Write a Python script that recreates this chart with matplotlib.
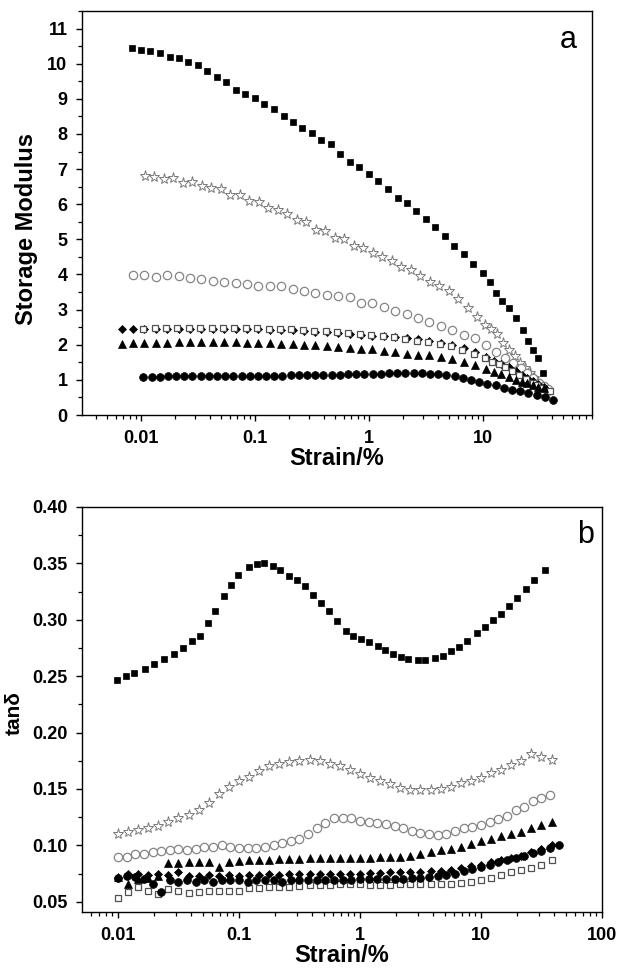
import matplotlib
matplotlib.use('Agg')
import matplotlib.pyplot as plt
from matplotlib.ticker import LogLocator, MultipleLocator, FuncFormatter, NullFormatter

plt.rcParams['font.family'] = ['Liberation Sans', 'DejaVu Sans']
plt.rcParams['font.weight'] = 'bold'
plt.rcParams['axes.labelweight'] = 'bold'

# ---------------- panel a : storage modulus ----------------
top_sq_x = [0.0083, 0.0100, 0.0121, 0.0147, 0.0178, 0.0215, 0.0261, 0.0316, 0.0383, 0.0464,
            0.0562, 0.0681, 0.0825, 0.100, 0.121, 0.147, 0.178, 0.215, 0.261, 0.316,
            0.383, 0.464, 0.562, 0.681, 0.825, 1.00, 1.21, 1.47, 1.78, 2.15,
            2.61, 3.16, 3.83, 4.64, 5.62, 6.81, 8.25, 10.0, 11.5, 13.0,
            14.7, 16.8, 19.5, 22.4, 24.8, 27.5, 30.3, 33.6]
top_sq_y = [10.45, 10.40, 10.35, 10.30, 10.20, 10.15, 10.04, 9.97, 9.80, 9.63,
            9.47, 9.26, 9.15, 9.03, 8.86, 8.70, 8.52, 8.35, 8.17, 8.03,
            7.82, 7.70, 7.42, 7.20, 7.05, 6.87, 6.66, 6.43, 6.17, 6.03,
            5.81, 5.57, 5.36, 5.09, 4.80, 4.58, 4.31, 4.05, 3.79, 3.46,
            3.25, 3.04, 2.76, 2.41, 2.10, 1.85, 1.62, 1.20]

top_star_x = [0.0108, 0.0131, 0.0159, 0.0192, 0.0233, 0.0282, 0.0342, 0.0414, 0.0501, 0.0607,
              0.0735, 0.0891, 0.108, 0.131, 0.159, 0.192, 0.233, 0.282, 0.342, 0.414,
              0.501, 0.607, 0.735, 0.891, 1.08, 1.31, 1.59, 1.92, 2.33, 2.82,
              3.42, 4.14, 5.01, 6.07, 7.35, 8.91, 10.5, 11.8, 13.2, 15.0,
              17.0, 19.0, 21.1, 23.4, 25.7, 28.2, 30.2, 33.1, 36.3]
top_star_y = [6.80, 6.78, 6.73, 6.76, 6.61, 6.64, 6.51, 6.47, 6.42, 6.27,
              6.26, 6.09, 6.07, 5.88, 5.83, 5.73, 5.55, 5.50, 5.28, 5.24,
              5.05, 5.00, 4.81, 4.74, 4.62, 4.50, 4.38, 4.22, 4.12, 3.95,
              3.79, 3.66, 3.53, 3.30, 3.05, 2.78, 2.56, 2.44, 2.30, 2.05,
              1.85, 1.68, 1.48, 1.34, 1.19, 1.05, 0.91, 0.80, 0.68]

top_oc_x = [0.0085, 0.0107, 0.0135, 0.0170, 0.0214, 0.0269, 0.0339, 0.0427, 0.0537, 0.0676,
            0.0851, 0.107, 0.135, 0.170, 0.214, 0.269, 0.339, 0.427, 0.537, 0.676,
            0.851, 1.07, 1.35, 1.70, 2.14, 2.69, 3.39, 4.27, 5.37, 6.76,
            8.51, 10.7, 12.9, 15.5, 18.2, 21.4, 24.5, 27.5, 30.9, 34.0, 37.0]
top_oc_y = [3.98, 3.98, 3.94, 3.98, 3.96, 3.89, 3.86, 3.81, 3.79, 3.76,
            3.73, 3.68, 3.68, 3.68, 3.58, 3.53, 3.46, 3.41, 3.38, 3.35,
            3.20, 3.18, 3.08, 2.96, 2.88, 2.76, 2.65, 2.53, 2.42, 2.28,
            2.18, 2.00, 1.80, 1.63, 1.48, 1.34, 1.20, 1.05, 0.92, 0.82, 0.74]

top_tri_dia_x = [0.0068, 0.0085, 0.0107, 0.0135, 0.0170, 0.0214, 0.0269, 0.0339, 0.0427, 0.0537,
                 0.0676, 0.0851, 0.107, 0.135, 0.170, 0.214, 0.269, 0.339, 0.427, 0.537,
                 0.676, 0.851, 1.07, 1.35, 1.70, 2.14, 2.69, 3.39, 4.27, 5.37,
                 6.76, 8.51, 10.7, 12.6, 14.5, 17.0, 19.5, 22.0, 24.5, 27.5, 30.5, 34.0]
top_dia_y = [2.45, 2.45, 2.46, 2.45, 2.46, 2.46, 2.45, 2.46, 2.45, 2.46,
             2.45, 2.44, 2.44, 2.43, 2.42, 2.41, 2.39, 2.37, 2.35, 2.33,
             2.31, 2.28, 2.26, 2.24, 2.21, 2.18, 2.15, 2.10, 2.05, 1.98,
             1.90, 1.80, 1.66, 1.55, 1.46, 1.36, 1.25, 1.15, 1.05, 0.96, 0.88, 0.80]
top_tri_y = [2.03, 2.05, 2.06, 2.06, 2.06, 2.07, 2.07, 2.07, 2.08, 2.07,
             2.08, 2.06, 2.06, 2.05, 2.03, 2.02, 2.00, 1.98, 1.96, 1.94,
             1.92, 1.89, 1.87, 1.83, 1.79, 1.75, 1.72, 1.70, 1.66, 1.60,
             1.52, 1.42, 1.31, 1.23, 1.16, 1.08, 1.01, 0.95, 0.90, 0.85, 0.81, 0.76]

top_osq_x = [0.0105, 0.0132, 0.0166, 0.0209, 0.0263, 0.0331, 0.0417, 0.0525, 0.0661, 0.0832,
             0.105, 0.132, 0.166, 0.209, 0.263, 0.331, 0.417, 0.525, 0.661, 0.832,
             1.05, 1.32, 1.66, 2.09, 2.63, 3.31, 4.17, 5.25, 6.61, 8.32,
             10.5, 12.0, 13.8, 15.5, 17.8, 20.9, 24.0, 27.5, 30.0, 33.0, 39.0]
top_osq_y = [2.46, 2.47, 2.48, 2.47, 2.48, 2.49, 2.48, 2.49, 2.48, 2.47,
             2.48, 2.46, 2.45, 2.44, 2.42, 2.40, 2.38, 2.36, 2.33, 2.30,
             2.28, 2.25, 2.22, 2.17, 2.12, 2.07, 2.02, 1.96, 1.86, 1.74,
             1.62, 1.52, 1.44, 1.37, 1.26, 1.14, 1.03, 0.92, 0.84, 0.77, 0.68]

top_fc_x = [0.0105, 0.0124, 0.0146, 0.0172, 0.0203, 0.0240, 0.0283, 0.0334, 0.0394, 0.0465,
            0.0549, 0.0647, 0.0764, 0.0901, 0.106, 0.125, 0.148, 0.174, 0.206, 0.243,
            0.286, 0.338, 0.399, 0.471, 0.556, 0.656, 0.774, 0.913, 1.08, 1.27,
            1.50, 1.77, 2.09, 2.47, 2.91, 3.43, 4.05, 4.78, 5.64, 6.65,
            7.85, 9.27, 10.9, 12.9, 15.2, 18.0, 21.2, 25.0, 29.5, 34.8, 41.1]
top_fc_y = [1.09, 1.09, 1.09, 1.10, 1.10, 1.10, 1.10, 1.10, 1.10, 1.11,
            1.11, 1.11, 1.11, 1.11, 1.12, 1.12, 1.12, 1.12, 1.13, 1.13,
            1.13, 1.14, 1.14, 1.15, 1.15, 1.16, 1.16, 1.17, 1.17, 1.18,
            1.19, 1.19, 1.20, 1.20, 1.19, 1.18, 1.16, 1.13, 1.10, 1.06,
            1.00, 0.94, 0.89, 0.85, 0.78, 0.72, 0.67, 0.62, 0.57, 0.50, 0.43]

# ---------------- panel b : tan delta ----------------
bot_sq_x = [0.0098, 0.0117, 0.0135, 0.0166, 0.0200, 0.0240, 0.0288, 0.0347, 0.0407, 0.0479,
            0.0550, 0.0631, 0.0750, 0.0859, 0.0984, 0.121, 0.141, 0.160, 0.191, 0.219,
            0.259, 0.302, 0.351, 0.407, 0.479, 0.550, 0.646, 0.767, 0.871, 1.02,
            1.18, 1.41, 1.60, 1.86, 2.17, 2.51, 3.01, 3.43, 4.14, 4.82,
            5.61, 6.53, 7.60, 9.20, 10.7, 12.5, 14.5, 16.9, 20.0, 23.4, 27.5, 33.5]
bot_sq_y = [0.247, 0.250, 0.253, 0.256, 0.261, 0.265, 0.270, 0.275, 0.281, 0.286,
            0.297, 0.308, 0.321, 0.331, 0.340, 0.347, 0.349, 0.350, 0.348, 0.344,
            0.339, 0.335, 0.330, 0.322, 0.315, 0.308, 0.299, 0.290, 0.286, 0.283,
            0.280, 0.277, 0.273, 0.270, 0.267, 0.265, 0.264, 0.264, 0.266, 0.268,
            0.272, 0.276, 0.281, 0.288, 0.294, 0.300, 0.305, 0.312, 0.319, 0.327, 0.335, 0.344]

bot_strain_a = [0.0100, 0.0121, 0.0147, 0.0178, 0.0215, 0.0261, 0.0316, 0.0383, 0.0464, 0.0562,
                0.0681, 0.0825, 0.100, 0.121, 0.147, 0.178, 0.215, 0.261, 0.316, 0.383,
                0.464, 0.562, 0.681, 0.825, 1.00, 1.21, 1.47, 1.78, 2.15, 2.61,
                3.16, 3.83, 4.64, 5.62, 6.81, 8.25, 10.0, 12.1, 14.7, 17.8,
                21.5, 26.1, 31.6, 38.3]
bot_star_y = [0.110, 0.112, 0.114, 0.115, 0.117, 0.121, 0.124, 0.127, 0.131, 0.138,
              0.146, 0.152, 0.157, 0.161, 0.166, 0.170, 0.172, 0.174, 0.175, 0.176,
              0.175, 0.172, 0.170, 0.167, 0.163, 0.160, 0.157, 0.154, 0.151, 0.149,
              0.149, 0.149, 0.150, 0.152, 0.155, 0.157, 0.160, 0.164, 0.167, 0.171,
              0.175, 0.181, 0.178, 0.176]
bot_tri_y = [0.072, 0.066, 0.070, 0.071, 0.073, 0.084, 0.084, 0.085, 0.085, 0.085,
             0.081, 0.0855, 0.086, 0.087, 0.087, 0.0875, 0.088, 0.088, 0.088, 0.0885,
             0.0885, 0.0885, 0.089, 0.089, 0.089, 0.089, 0.0895, 0.0895, 0.090, 0.0905,
             0.092, 0.094, 0.0955, 0.097, 0.099, 0.101, 0.104, 0.106, 0.108, 0.110,
             0.112, 0.115, 0.118, 0.121]
bot_dia_y = [0.071, 0.075, 0.075, 0.074, 0.075, 0.074, 0.076, 0.073, 0.073, 0.074,
             0.073, 0.074, 0.073, 0.074, 0.074, 0.075, 0.074, 0.075, 0.075, 0.075,
             0.075, 0.075, 0.075, 0.075, 0.075, 0.0755, 0.0755, 0.076, 0.076, 0.076,
             0.0765, 0.077, 0.077, 0.078, 0.080, 0.082, 0.083, 0.085, 0.087, 0.089,
             0.091, 0.094, 0.097, 0.100]
bot_osq_y = [0.053, 0.059, 0.063, 0.060, 0.057, 0.061, 0.060, 0.058, 0.059, 0.060,
             0.060, 0.060, 0.0595, 0.062, 0.0625, 0.063, 0.063, 0.063, 0.064, 0.0645,
             0.0645, 0.065, 0.0655, 0.0655, 0.0655, 0.065, 0.065, 0.065, 0.0655, 0.0655,
             0.0655, 0.0655, 0.066, 0.066, 0.0665, 0.068, 0.0695, 0.071, 0.074, 0.076,
             0.078, 0.080, 0.083, 0.087]

bot_oc_x = [0.0100, 0.0118, 0.0139, 0.0164, 0.0193, 0.0228, 0.0268, 0.0316, 0.0373, 0.0439,
            0.0518, 0.0611, 0.0720, 0.0848, 0.100, 0.118, 0.139, 0.164, 0.193, 0.228,
            0.268, 0.316, 0.373, 0.439, 0.518, 0.611, 0.720, 0.848, 1.00, 1.18,
            1.39, 1.64, 1.93, 2.28, 2.68, 3.16, 3.73, 4.39, 5.18, 6.11,
            7.20, 8.48, 10.0, 11.8, 13.9, 16.4, 19.3, 22.8, 26.8, 31.6, 37.3]
bot_oc_y = [0.090, 0.090, 0.092, 0.092, 0.094, 0.095, 0.096, 0.0965, 0.096, 0.097,
            0.0985, 0.099, 0.100, 0.099, 0.098, 0.098, 0.098, 0.099, 0.100, 0.102,
            0.104, 0.106, 0.110, 0.115, 0.120, 0.124, 0.124, 0.124, 0.122, 0.121,
            0.120, 0.119, 0.117, 0.115, 0.113, 0.111, 0.110, 0.109, 0.110, 0.113,
            0.115, 0.116, 0.118, 0.121, 0.123, 0.126, 0.131, 0.134, 0.139, 0.142, 0.145]

bot_fc_x = [0.0100, 0.0118, 0.0139, 0.0164, 0.0193, 0.0228, 0.0268, 0.0316, 0.0373, 0.0439,
            0.0518, 0.0611, 0.0720, 0.0848, 0.100, 0.118, 0.139, 0.164, 0.193, 0.228,
            0.268, 0.316, 0.373, 0.439, 0.518, 0.611, 0.720, 0.848, 1.00, 1.18,
            1.39, 1.64, 1.93, 2.28, 2.68, 3.16, 3.73, 4.39, 5.18, 6.11,
            7.20, 8.48, 10.0, 11.8, 13.9, 16.4, 19.3, 22.8, 26.8, 31.6, 37.3, 43.9]
bot_fc_y = [0.071, 0.073, 0.072, 0.070, 0.066, 0.059, 0.069, 0.068, 0.069, 0.068,
            0.069, 0.068, 0.069, 0.069, 0.069, 0.068, 0.069, 0.069, 0.069, 0.068,
            0.069, 0.069, 0.069, 0.069, 0.069, 0.069, 0.069, 0.069, 0.070, 0.070,
            0.070, 0.070, 0.070, 0.070, 0.071, 0.071, 0.072, 0.073, 0.074, 0.075,
            0.077, 0.079, 0.081, 0.083, 0.085, 0.087, 0.089, 0.091, 0.093, 0.095, 0.098, 0.100]

top_ticks = [0, 1, 2, 3, 4, 5, 6, 7, 8, 9, 10, 11]
bot_ticks = [0.05, 0.10, 0.15, 0.20, 0.25, 0.30, 0.35, 0.40]

# ---------------- styles ----------------
ST = {
    'sq':   dict(marker='s', ms=4.9, mfc='black', mec='black', mew=0.5),
    'star': dict(marker='*', ms=8.0, mfc='white', mec='#7a7a7a', mew=0.7),
    'oc':   dict(marker='o', ms=6.0, mfc='white', mec='#858585', mew=0.9),
    'dia':  dict(marker='D', ms=4.0, mfc='black', mec='black', mew=0.5),
    'osq':  dict(marker='s', ms=5.0, mfc='white', mec='#505050', mew=0.9),
    'tri':  dict(marker='^', ms=6.0, mfc='black', mec='black', mew=0.5),
    'fc':   dict(marker='o', ms=5.6, mfc='black', mec='black', mew=0.5),
}


def pts(ax, x, y, key):
    ax.plot(x, y, linestyle='none', **ST[key])


fig = plt.figure(figsize=(6.25, 9.71), dpi=100)
ax1 = fig.add_axes([0.1312, 0.5726, 0.816, 0.4161])
ax2 = fig.add_axes([0.1312, 0.0608, 0.832, 0.4171])

# panel a
pts(ax1, top_sq_x, top_sq_y, 'sq')
pts(ax1, top_star_x, top_star_y, 'star')
pts(ax1, top_oc_x, top_oc_y, 'oc')
pts(ax1, top_tri_dia_x, top_dia_y, 'dia')
pts(ax1, top_osq_x, top_osq_y, 'osq')
pts(ax1, top_tri_dia_x, top_tri_y, 'tri')
pts(ax1, top_fc_x, top_fc_y, 'fc')

# panel b
pts(ax2, bot_sq_x, bot_sq_y, 'sq')
pts(ax2, bot_strain_a, bot_star_y, 'star')
pts(ax2, bot_oc_x, bot_oc_y, 'oc')
pts(ax2, bot_strain_a, bot_osq_y, 'osq')
pts(ax2, bot_strain_a, bot_tri_y, 'tri')
pts(ax2, bot_strain_a, bot_dia_y, 'dia')
pts(ax2, bot_fc_x, bot_fc_y, 'fc')

fmt = FuncFormatter(lambda v, p: f'{v:g}')
for ax in (ax1, ax2):
    ax.set_xscale('log')
    ax.xaxis.set_major_locator(LogLocator(base=10, numticks=20))
    ax.xaxis.set_minor_locator(LogLocator(base=10, subs=(2, 3, 4, 5, 6, 7, 8, 9), numticks=20))
    ax.xaxis.set_major_formatter(fmt)
    ax.xaxis.set_minor_formatter(NullFormatter())
    ax.tick_params(which='major', direction='out', length=4.5, width=1.0,
                   labelsize=13, pad=6, top=False, right=False)
    ax.tick_params(which='minor', direction='out', length=2.6, width=0.9,
                   top=False, right=False)
    for s in ax.spines.values():
        s.set_linewidth(1.0)
    ax.set_xlabel('Strain/%', fontsize=17, labelpad=0)

ax1.set_xlim(0.00304, 90.4)
ax1.set_ylim(0, 11.5)
ax1.set_yticks(top_ticks)
ax1.yaxis.set_minor_locator(MultipleLocator(0.5))
ax1.set_ylabel('Storage Modulus', fontsize=17)
ax1.yaxis.set_label_coords(-0.086, 0.46)
ax1.text(0.953, 0.928, 'a', transform=ax1.transAxes, fontsize=22,
         fontweight='normal', ha='center', va='center')

ax2.set_xlim(0.00504, 100)
ax2.set_ylim(0.041, 0.40)
ax2.set_yticks(bot_ticks)
ax2.yaxis.set_major_formatter(FuncFormatter(lambda v, p: f'{v:.2f}'))
ax2.yaxis.set_minor_locator(MultipleLocator(0.025))
ax2.set_ylabel('tan\u03b4', fontsize=15)
ax2.yaxis.set_label_coords(-0.112, 0.49)
ax2.text(0.969, 0.931, 'b', transform=ax2.transAxes, fontsize=22,
         fontweight='normal', ha='center', va='center')

fig.savefig('out.png', dpi=100)
